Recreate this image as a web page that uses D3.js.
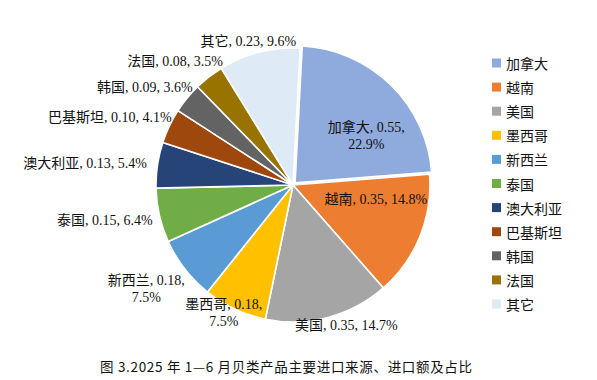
<!DOCTYPE html>
<html><head><meta charset="utf-8">
<script src="https://cdn.jsdelivr.net/npm/d3@7"></script>
<style>
html,body{margin:0;padding:0;background:#fff;}
svg{display:block;}
</style></head>
<body>
<script>
// ---- data ----
const categories = ["加拿大","越南","美国","墨西哥","新西兰","泰国","澳大利亚","巴基斯坦","韩国","法国","其它"];
const values = [0.55,0.35,0.35,0.18,0.18,0.15,0.13,0.10,0.09,0.08,0.23];
const shares = [22.9,14.8,14.7,7.5,7.5,6.4,5.4,4.1,3.6,3.5,9.6];
const caption = "图 3.2025 年 1—6 月贝类产品主要进口来源、进口额及占比";

// ---- style / layout ----
const colors = ["#8FAADC","#ED7D31","#A5A5A5","#FFC000","#5B9BD5","#70AD47","#264478","#9E480E","#636363","#997300","#DEEBF7"];
const insideLabels = new Set(["加拿大","越南"]);
const wrapLabels = new Set(["加拿大","新西兰","墨西哥"]);
const labelNudge = [[12,14],[4,-17],[4,-4],[7,-15],[-5,7],[-4,2],[-7,0],[0,-3],[-2,-3],[-2,-5],[2,1]];
const explode = [3,0,0,0,0,0,0,0,0,0,0];

const W = 597, H = 380;
const cx = 293, cy = 185, R = 137;
const start = 3 * Math.PI / 180;

const svg = d3.select("body").append("svg").attr("width", W).attr("height", H);

const idx = d3.range(categories.length);
const pie = d3.pie().sort(null).value(i => shares[i]).startAngle(start).endAngle(start + 2 * Math.PI);
const arcs = pie(idx);
const arc = d3.arc().innerRadius(0).outerRadius(R);
const color = d3.scaleOrdinal().domain(categories).range(colors);

const g = svg.append("g").attr("transform", `translate(${cx},${cy})`);

g.selectAll("path.slice").data(arcs).join("path")
  .attr("class", "slice")
  .attr("d", arc)
  .attr("transform", d => {
    const a = (d.startAngle + d.endAngle) / 2, e = explode[d.data];
    return `translate(${e * Math.sin(a)},${-e * Math.cos(a)})`;
  })
  .attr("fill", d => color(categories[d.data]))
  .attr("stroke", "#fff").attr("stroke-width", 1.6).attr("stroke-linejoin", "round");

// ---- data labels ----
const labelFont = "'Liberation Serif','Times New Roman','Noto Sans CJK SC',serif";
const lineH = 17;
arcs.forEach(d => {
  const i = d.data, name = categories[i];
  const a = (d.startAngle + d.endAngle) / 2;
  const s = Math.sin(a), c = Math.cos(a);
  const t1 = `${name}, ${values[i].toFixed(2)}, `;
  const t2 = `${shares[i].toFixed(1)}%`;
  const lines = wrapLabels.has(name) ? [t1.trim(), t2] : [t1 + t2];
  const txt = g.append("text")
    .attr("font-family", labelFont).attr("font-size", 14).attr("fill", "#111")
    .attr("text-anchor", "middle");
  lines.forEach((l, k) => {
    txt.append("tspan").attr("x", 0).attr("y", (k - (lines.length - 1) / 2) * lineH)
      .attr("dominant-baseline", "central").text(l);
  });
  const bb = txt.node().getBBox();
  const w = bb.width, h = lines.length * lineH;
  let x, y;
  if (insideLabels.has(name)) {
    const e = explode[i];
    x = (R * 0.62 + e) * s; y = -(R * 0.62 + e) * c;
  } else {
    const rr = R + 4;
    x = rr * s + (w / 2) * s;
    y = -rr * c - (h / 2) * c;
  }
  x += labelNudge[i][0]; y += labelNudge[i][1];
  txt.attr("transform", `translate(${x},${y})`);
});

// ---- legend ----
const legend = svg.append("g").attr("transform", "translate(492,63)");
const rowH = 24.1;
const items = legend.selectAll("g").data(categories).join("g")
  .attr("transform", (d, i) => `translate(0,${i * rowH})`);
items.append("rect").attr("x", 0).attr("y", -4.5).attr("width", 9).attr("height", 9)
  .attr("fill", d => color(d));
items.append("text").attr("x", 14).attr("y", 0).attr("dominant-baseline", "central")
  .attr("font-family", "'Noto Sans CJK SC',sans-serif").attr("font-size", 14).attr("fill", "#111")
  .text(d => d);

// ---- caption ----
svg.append("text").attr("x", 100).attr("y", 366).attr("text-anchor", "start")
  .attr("dominant-baseline", "central")
  .attr("font-family", "'Noto Sans CJK SC',sans-serif").attr("font-size", 13.5).attr("fill", "#111")
  .attr("textLength", 372).attr("lengthAdjust", "spacing")
  .text(caption);
</script>
</body></html>
